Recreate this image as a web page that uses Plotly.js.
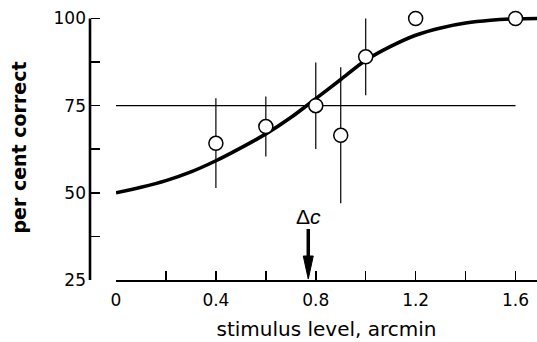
<!DOCTYPE html>
<html>
<head>
<meta charset="utf-8">
<script src="https://cdn.plot.ly/plotly-3.0.1.min.js"></script>
<style>html,body{margin:0;padding:0;background:#fff;}#chart{width:537px;height:342px;}</style>
</head>
<body>
<div id="chart"></div>
<script>
// Observed data (stimulus level in arcmin, per cent correct)
const stimLevel   = [0.4, 0.6, 0.8, 0.9, 1.0, 1.2, 1.6];
const pctCorrect  = [64.2, 69.0, 75.0, 66.5, 89.0, 100, 100];
const errPlus     = [12.9, 8.6, 12.4, 19.5, 11.0, 0, 0];
const errMinus    = [12.8, 8.6, 12.4, 19.5, 11.0, 0, 0];

// Fitted psychometric curve
const curveX = [0, 0.1, 0.2, 0.3, 0.4, 0.5, 0.6, 0.7, 0.8, 0.9, 1.0, 1.1, 1.2, 1.3, 1.4, 1.5, 1.6, 1.69];
const curveY = [50, 51.6, 53.5, 56.0, 59.2, 62.9, 66.9, 71.6, 77.0, 82.5, 88.0, 92.0, 95.2, 97.3, 98.7, 99.5, 99.9, 100];

// 75% criterion line and threshold
const criterionX = [0, 1.6];
const criterionY = [75, 75];
const thresholdDeltaC = 0.77;

// Axes
const xTickVals = [0, 0.4, 0.8, 1.2, 1.6];
const xTickText = ['0', '0.4', '0.8', '1.2', '1.6'];
const xMinorVals = [0.2, 0.6, 1.0, 1.4];
const yTickVals = [25, 50, 75, 100];
const yTickText = ['25', '50', '75', '100'];
const yMinorVals = [37.5, 62.5, 87.5];
const xRange = [0, 1.686];
const yRange = [25, 101];

const tickFont = {family: 'DejaVu Sans, sans-serif', size: 17, color: '#000'};

const traces = [
  {x: criterionX, y: criterionY, mode: 'lines', line: {color: '#000', width: 1.2}, hoverinfo: 'skip', showlegend: false},
  {x: curveX, y: curveY, mode: 'lines', line: {color: '#000', width: 3.6, shape: 'spline', smoothing: 0.8}, showlegend: false},
  {x: stimLevel, y: pctCorrect, mode: 'markers', cliponaxis: false,
   marker: {size: 14, color: '#fff', line: {color: '#000', width: 1.5}},
   error_y: {type: 'data', array: errPlus, arrayminus: errMinus, symmetric: false, color: '#000', thickness: 1.2, width: 0},
   showlegend: false}
];

const layout = {
  width: 537, height: 342,
  margin: {l: 90, r: 0, t: 15, b: 62},
  paper_bgcolor: '#fff', plot_bgcolor: '#fff',
  showlegend: false,
  font: tickFont,
  xaxis: {
    domain: [0.0582, 1],
    range: xRange, showgrid: false, zeroline: false,
    showline: true, linecolor: '#000', linewidth: 2.2,
    tickmode: 'array', tickvals: xTickVals, ticktext: xTickText,
    ticks: 'inside', ticklen: 9, tickwidth: 1.5, tickcolor: '#000',
    minor: {tickmode: 'array', tickvals: xMinorVals, ticks: 'inside', ticklen: 9, tickwidth: 1.5, tickcolor: '#000', showgrid: false},
    tickfont: tickFont, ticklabelstandoff: 3,
    title: {text: 'stimulus level, arcmin', font: {family: 'DejaVu Sans, sans-serif', size: 20, color: '#000'}, standoff: 14}
  },
  yaxis: {
    anchor: 'free', position: 0,
    range: yRange, showgrid: false, zeroline: false, showline: false,
    tickmode: 'array', tickvals: yTickVals, ticktext: yTickText,
    ticks: 'inside', ticklen: 9, tickwidth: 1.5, tickcolor: '#000',
    minor: {tickmode: 'array', tickvals: yMinorVals, ticks: 'inside', ticklen: 9, tickwidth: 1.5, tickcolor: '#000', showgrid: false},
    tickfont: tickFont, ticklabelstandoff: 4,
    title: {text: 'per cent correct', font: {family: 'DejaVu Sans, sans-serif', size: 19, color: '#000', weight: 'bold'}, standoff: 20}
  },
  shapes: [
    {type: 'line', xref: 'paper', yref: 'y', x0: 0, x1: 0, y0: yTickVals[0], y1: yTickVals[yTickVals.length - 1], line: {color: '#000', width: 2.6}},
    {type: 'path', xref: 'x', yref: 'y', xsizemode: 'pixel', ysizemode: 'pixel',
     xanchor: thresholdDeltaC, yanchor: yRange[0],
     path: 'M-5,24 L5,24 L0,1 Z', fillcolor: '#000', line: {color: '#000', width: 1}}
  ],
  annotations: [
    {x: thresholdDeltaC, y: yRange[0], xref: 'x', yref: 'y', text: 'Δ<i>c</i>',
     showarrow: true, ax: 0, ay: -64, arrowhead: 0, arrowwidth: 3.5, arrowcolor: '#000', standoff: 18,
     font: {family: 'Liberation Sans, Arial, sans-serif', size: 21, color: '#000'}}
  ]
};

Plotly.newPlot('chart', traces, layout, {displayModeBar: false, staticPlot: true});
</script>
</body>
</html>
